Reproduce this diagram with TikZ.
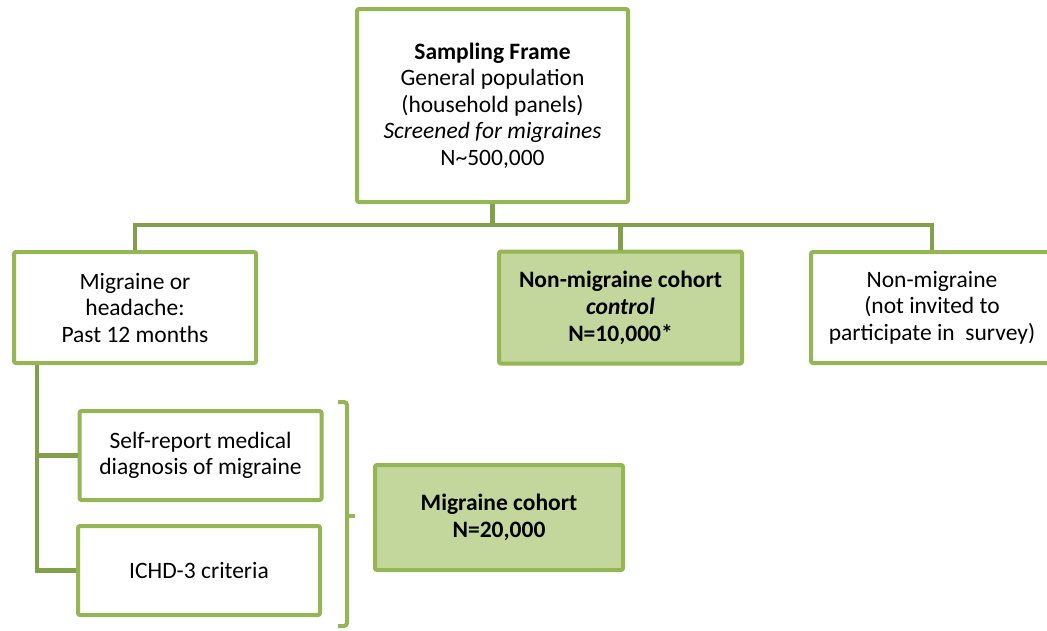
\documentclass[tikz,border=0pt]{standalone}
\usepackage{fontspec}
\setmainfont{Carlito}
\usepackage{tikz}
\definecolor{boxgreen}{HTML}{94B654}
\definecolor{linegreen}{HTML}{82A04A}
\definecolor{cohortfill}{HTML}{C3D69B}
\tikzstyle{plainbox} = [rectangle, rounded corners=2pt, minimum width=242pt, minimum height=111pt, align=center, draw=boxgreen, line width=4pt, fill=white]
\tikzstyle{framebox} = [plainbox, minimum width=271pt, minimum height=193pt]
\tikzstyle{cohortbox} = [plainbox, fill=cohortfill, font=\fontsize{23.5}{27}\selectfont\bfseries]
\tikzstyle{critbox} = [plainbox, minimum height=89pt]
\tikzstyle{conn} = [line width=4.5pt, draw=linegreen]
\tikzstyle{bracketline} = [line width=4pt, draw=boxgreen, rounded corners=3pt]

\begin{document}
\begin{tikzpicture}[x=1pt, y=-1pt, node distance=200pt, font=\fontsize{23.5}{26.5}\selectfont]
	\useasboundingbox (0,0) rectangle (1047,630);
	\node (frame) [framebox] at (492.5,105.5) {\textbf{Sampling Frame}\\General population\\(household panels)\\\textit{Screened for migraines}\\N\textasciitilde 500,000};
	\coordinate (bus) at (492.5,225);
		\draw [conn] (frame.south) -- (bus);
	\node (migr) [plainbox, below of=frame, xshift=-357.5pt, yshift=-2pt] {Migraine or\\headache:\\Past 12 months};
		\draw [conn] (bus) -| (migr.north);
	\node (ctrl) [cohortbox, right of=migr, xshift=285.5pt, minimum width=243pt, minimum height=112pt] {Non-migraine cohort\\\textit{control}\\N=10,000*};
		\draw [conn] (bus) -| (ctrl.north);
	\node (nonmig) [plainbox, right of=ctrl, xshift=111.5pt] {Non-migraine\\(not invited to\\participate in \ survey)};
		\draw [conn] (bus) -| (nonmig.north);

	\node (selfrep) [critbox, below of=migr, xshift=65.5pt, yshift=52pt] {Self-report medical\\diagnosis of migraine};
	\node (ichd) [critbox, below of=selfrep, xshift=-1.5pt, yshift=85pt] {ICHD-3 criteria};
	\coordinate (spine) at ([xshift=-98pt]migr.south);
		\draw [conn] (spine) |- (selfrep.west);
		\draw [conn] (spine) |- (ichd.west);

	% bracket grouping the two criteria
	\coordinate (brtop) at (347,402);
	\coordinate (brmid) at (347,516);
	\coordinate (brbot) at (347,626);
		\draw [bracketline] ([xshift=-9pt]brtop) -- (brtop) -- (brbot) -- ([xshift=-9pt]brbot);
		\draw [bracketline] (brmid) -- ([xshift=8pt]brmid);
	\node (cohort) [cohortbox, right of=selfrep, xshift=98.5pt, yshift=-62pt, minimum width=248pt, minimum height=105pt] {Migraine cohort\\N=20,000};

\end{tikzpicture}
\end{document}
